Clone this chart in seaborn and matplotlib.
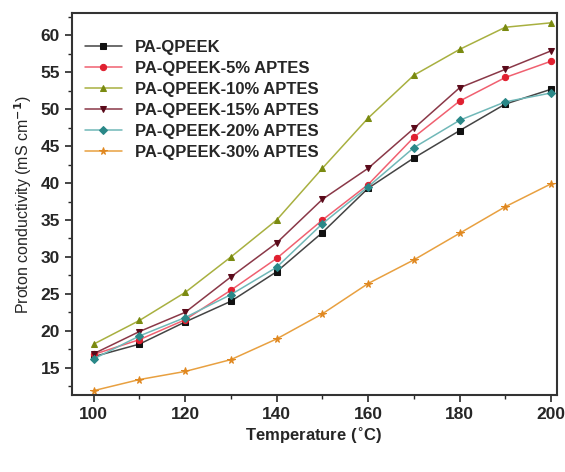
import matplotlib
matplotlib.use("Agg")
import matplotlib.pyplot as plt
import seaborn as sns
import pandas as pd
from matplotlib.ticker import MultipleLocator

temperature = [100, 110, 120, 130, 140, 150, 160, 170, 180, 190, 200]
pa_qpeek = [16.5, 18.2, 21.2, 24.0, 28.0, 33.3, 39.3, 43.4, 47.1, 50.7, 52.7]
aptes_5 = [16.8, 18.8, 21.5, 25.5, 29.8, 35.0, 39.8, 46.2, 51.1, 54.3, 56.5]
aptes_10 = [18.2, 21.4, 25.2, 30.0, 35.0, 42.0, 48.8, 54.6, 58.1, 61.1, 61.7]
aptes_15 = [16.9, 19.9, 22.5, 27.3, 31.9, 37.8, 42.0, 47.4, 52.9, 55.4, 57.9]
aptes_20 = [16.2, 19.3, 21.8, 24.9, 28.6, 34.5, 39.5, 44.8, 48.5, 51.0, 52.2]
aptes_30 = [11.9, 13.4, 14.5, 16.1, 18.9, 22.3, 26.4, 29.6, 33.2, 36.8, 39.9]

labels = ["PA-QPEEK", "PA-QPEEK-5% APTES", "PA-QPEEK-10% APTES",
          "PA-QPEEK-15% APTES", "PA-QPEEK-20% APTES", "PA-QPEEK-30% APTES"]
series = [pa_qpeek, aptes_5, aptes_10, aptes_15, aptes_20, aptes_30]
line_colors = ["#444444", "#f06070", "#a8b040", "#8a3848", "#70b8b8", "#e8a040"]
marker_colors = ["#111111", "#e02030", "#7a8a10", "#5a0a1a", "#2a8888", "#e08820"]
markers = ["s", "o", "^", "v", "D", "*"]
msizes = [4, 4.5, 5, 5, 4, 5.5]

sns.set_style("ticks")
plt.rcParams['font.family'] = ['Liberation Sans', 'DejaVu Sans']
plt.rcParams['font.weight'] = 'bold'

fig = plt.figure(figsize=(5.65, 4.72), dpi=100)
ax = fig.add_axes([0.127, 0.163, 0.858, 0.809])

for lab, vals, lc, mc, mk, ms in zip(labels, series, line_colors, marker_colors, markers, msizes):
    df = pd.DataFrame({"T": temperature, "sigma": vals})
    sns.lineplot(data=df, x="T", y="sigma", ax=ax, color=lc, lw=1.1,
                 marker=mk, markersize=ms, markerfacecolor=mc, markeredgecolor=mc,
                 label=lab)

ax.set_xlim(95.2, 201.2)
ax.set_ylim(11.3, 63)
ax.xaxis.set_major_locator(MultipleLocator(20))
ax.xaxis.set_minor_locator(MultipleLocator(10))
ax.yaxis.set_major_locator(MultipleLocator(5))
ax.yaxis.set_minor_locator(MultipleLocator(2.5))
ax.tick_params(which='major', direction='out', length=5, width=1.2, labelsize=12.5)
ax.tick_params(which='minor', direction='out', length=3, width=1.0)
for lbl in ax.get_xticklabels() + ax.get_yticklabels():
    lbl.set_fontweight('bold')
for sp in ax.spines.values():
    sp.set_linewidth(1.5)
    sp.set_color("#333333")
    sp.set_visible(True)

ax.set_xlabel("Temperature ($^{\\circ}$C)", fontsize=12, fontweight='bold', labelpad=3)
ax.set_ylabel("Proton conductivity (mS cm$^{-1}$)", fontsize=11.5, fontweight='normal', labelpad=5)

leg = ax.legend(loc="upper left", frameon=False, fontsize=12, handlelength=2.2,
                borderaxespad=0.4, labelspacing=0.36, bbox_to_anchor=(0.0, 0.965))
for t in leg.get_texts():
    t.set_fontweight('bold')

fig.savefig("out.png", dpi=100)
